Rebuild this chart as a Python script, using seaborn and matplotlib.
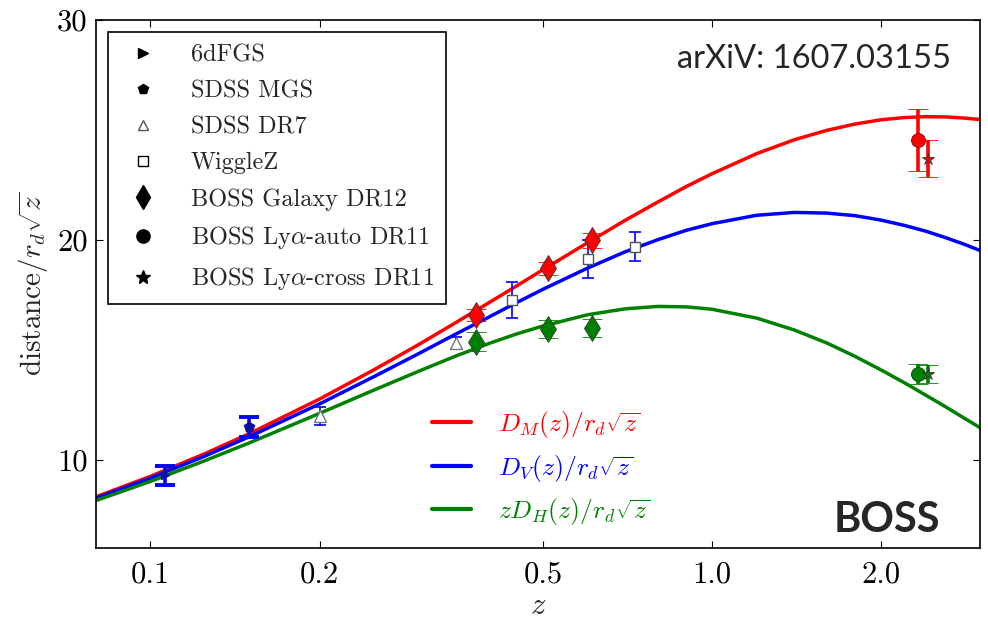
import matplotlib
matplotlib.use("Agg")
import matplotlib.pyplot as plt
from matplotlib.lines import Line2D
import seaborn as sns
import pandas as pd

# Model curves (distance / r_d sqrt(z)) sampled along z
z_curve = [0.08, 0.1, 0.125, 0.15, 0.2, 0.25, 0.3, 0.35, 0.4, 0.45, 0.5, 0.6, 0.7,
           0.8, 0.9, 1.0, 1.2, 1.4, 1.6, 1.8, 2.0, 2.2, 2.4, 2.6, 2.8, 3.0]
dm_curve = [8.33, 9.26, 10.29, 11.2, 12.77, 14.1, 15.24, 16.25, 17.14, 17.93, 18.65,
            19.87, 20.89, 21.72, 22.43, 23.01, 23.92, 24.55, 24.98, 25.27, 25.46,
            25.56, 25.6, 25.59, 25.54, 25.47]
dv_curve = [8.27, 9.18, 10.18, 11.06, 12.55, 13.79, 14.83, 15.73, 16.49, 17.17, 17.76,
            18.72, 19.46, 20.01, 20.44, 20.74, 21.12, 21.25, 21.22, 21.1, 20.9,
            20.66, 20.4, 20.11, 19.82, 19.52]
dh_curve = [8.16, 9.03, 9.97, 10.78, 12.12, 13.18, 14.03, 14.73, 15.29, 15.74, 16.09,
            16.6, 16.87, 16.98, 16.96, 16.85, 16.45, 15.91, 15.32, 14.7, 14.09,
            13.51, 12.95, 12.43, 11.93, 11.47]

# BAO measurements
z_6df, dv_6df, dv_6df_err = [0.106], [9.3], [0.42]
z_mgs, dv_mgs, dv_mgs_err = [0.15], [11.5], [0.45]
z_dr7, dv_dr7, dv_dr7_err = [0.2, 0.35], [12.0, 15.33], [0.39, 0.27]
z_wig, dv_wig, dv_wig_err = [0.44, 0.6, 0.73], [17.27, 19.14, 19.7], [0.83, 0.85, 0.67]
z_dr12 = [0.38, 0.51, 0.61]
dm_dr12, dm_dr12_err = [16.59, 18.71, 19.98], [0.28, 0.31, 0.34]
dh_dr12, dh_dr12_err = [15.38, 15.95, 16.0], [0.43, 0.42, 0.42]
z_lya_auto, dm_lya_auto, dm_lya_auto_err = [2.33], [24.55], [1.41]
dh_lya_auto, dh_lya_auto_err = [13.9], [0.45]
z_lya_cross, dm_lya_cross, dm_lya_cross_err = [2.42], [23.7], [0.86]
dh_lya_cross, dh_lya_cross_err = [13.92], [0.42]

x_ticks = [0.1, 0.2, 0.5, 1.0, 2.0]
x_ticklabels = ["0.1", "0.2", "0.5", "1.0", "2.0"]
y_ticks = [10, 20, 30]

curve_labels = [r"$D_M(z)/r_d\sqrt{z}$", r"$D_V(z)/r_d\sqrt{z}$", r"$zD_H(z)/r_d\sqrt{z}$"]
survey_labels = ["6dFGS", "SDSS MGS", "SDSS DR7", "WiggleZ", "BOSS Galaxy DR12",
                 r"BOSS Ly$\alpha$-auto DR11", r"BOSS Ly$\alpha$-cross DR11"]

RED, BLUE, GREEN = "#ff0000", "#0000ff", "#008000"

sns.set_style("ticks")
plt.rcParams["font.family"] = ["cmr10", "DejaVu Serif"]
plt.rcParams["mathtext.fontset"] = "cm"
plt.rcParams["axes.formatter.use_mathtext"] = True

fig = plt.figure(figsize=(9.88, 6.2), dpi=100)
ax = fig.add_axes([0.0972, 0.116, 0.8948, 0.852])
ax.set_xscale("log")

curves = pd.DataFrame({
    "z": z_curve * 3,
    "value": dm_curve + dv_curve + dh_curve,
    "kind": [curve_labels[0]] * len(z_curve) + [curve_labels[1]] * len(z_curve)
            + [curve_labels[2]] * len(z_curve),
})
sns.lineplot(data=curves, x="z", y="value", hue="kind",
             palette=[RED, BLUE, GREEN], linewidth=2.5, ax=ax, legend=False,
             zorder=2)

thick = dict(elinewidth=2.6, capsize=7, capthick=2.8, linestyle="none", zorder=4)
thin = dict(elinewidth=1.2, capsize=4.5, capthick=1.2, linestyle="none", zorder=3)

ax.errorbar(z_6df, dv_6df, yerr=dv_6df_err, fmt=">", color=BLUE,
            mfc="#1010a0", mec="#1010a0", ms=6, **thick)
ax.errorbar(z_mgs, dv_mgs, yerr=dv_mgs_err, fmt="p", color=BLUE,
            mfc="#1010a0", mec="#1010a0", ms=7, **thick)
ax.errorbar(z_dr7, dv_dr7, yerr=dv_dr7_err, fmt="^", color=BLUE,
            mfc="white", mec="#777777", ms=8, **thin)
ax.errorbar(z_wig, dv_wig, yerr=dv_wig_err, fmt="s", color=BLUE,
            mfc="white", mec="#555555", ms=7, **thin)
ax.errorbar(z_dr12, dm_dr12, yerr=dm_dr12_err, fmt="d", color=RED,
            mfc=RED, mec="#333333", mew=0.6, ms=13, **thick)
ax.errorbar(z_dr12, dh_dr12, yerr=dh_dr12_err, fmt="d", color=GREEN,
            mfc=GREEN, mec="#333333", mew=0.6, ms=13, **thick)
ax.errorbar(z_lya_auto, dm_lya_auto, yerr=dm_lya_auto_err, fmt="o", color=RED,
            mfc=RED, mec="#7a0000", mew=0.6, ms=10, **thick)
ax.errorbar(z_lya_auto, dh_lya_auto, yerr=dh_lya_auto_err, fmt="o", color=GREEN,
            mfc=GREEN, mec="#004000", mew=0.6, ms=10, **thick)
ax.errorbar(z_lya_cross, dm_lya_cross, yerr=dm_lya_cross_err, fmt="*", color=RED,
            mfc=RED, mec="#333333", mew=0.6, ms=9, **thick)
ax.errorbar(z_lya_cross, dh_lya_cross, yerr=dh_lya_cross_err, fmt="*", color=GREEN,
            mfc=GREEN, mec="#333333", mew=0.6, ms=9, **thick)

ax.set_xlim(0.08, 3.0)
ax.set_ylim(6, 30)
ax.set_xticks(x_ticks)
ax.set_xticklabels(x_ticklabels)
ax.xaxis.set_minor_locator(matplotlib.ticker.NullLocator())
ax.set_yticks(y_ticks)
ax.set_yticklabels([str(v) for v in y_ticks])
ax.tick_params(axis="both", which="major", direction="in", length=5, width=0.8,
               top=True, right=True, labelsize=22, colors="black")
ax.tick_params(axis="x", pad=9)
ax.tick_params(axis="y", pad=6)
for sp in ax.spines.values():
    sp.set_visible(True)
    sp.set_color("black")
    sp.set_linewidth(1.2)

ax.set_xlabel(r"$z$", fontsize=22, labelpad=3)
ax.set_ylabel(r"distance$/r_d\sqrt{z}$", fontsize=21, labelpad=5)

# Survey legend (black markers)
survey_handles = [
    Line2D([], [], ls="none", marker=">", color="black", ms=7),
    Line2D([], [], ls="none", marker="p", color="black", ms=7),
    Line2D([], [], ls="none", marker="^", mfc="white", mec="#555555", ms=7),
    Line2D([], [], ls="none", marker="s", mfc="white", mec="black", ms=7),
    Line2D([], [], ls="none", marker="d", color="black", ms=12),
    Line2D([], [], ls="none", marker="o", color="black", ms=9.5),
    Line2D([], [], ls="none", marker="*", color="black", ms=10),
]
leg1 = ax.legend(survey_handles, survey_labels, loc="upper left",
                 bbox_to_anchor=(0.0136, 0.977), borderaxespad=0, fontsize=17.5,
                 frameon=True, fancybox=False, edgecolor="black", framealpha=1,
                 handletextpad=1.0, labelspacing=0.57, borderpad=0.5,
                 handlelength=1.9)
leg1.get_frame().set_linewidth(1.2)
ax.add_artist(leg1)

curve_handles = [Line2D([], [], color=c, lw=3) for c in (RED, BLUE, GREEN)]
leg2 = ax.legend(curve_handles, curve_labels, loc="lower left",
                 bbox_to_anchor=(0.3627, 0.01), borderaxespad=0.2, fontsize=18.5,
                 frameon=False, labelcolor="linecolor", handlelength=1.52,
                 handletextpad=1.05, labelspacing=0.5)

ax.text(0.9675, 0.925, "arXiV: 1607.03155", transform=ax.transAxes,
        ha="right", va="center", fontsize=23.5, family=["Lato", "DejaVu Sans"])
ax.text(0.955, 0.03, "BOSS", transform=ax.transAxes, ha="right", va="baseline",
        fontsize=30, fontweight="bold", family=["Lato", "DejaVu Sans"])

fig.savefig("out.png", dpi=100)
